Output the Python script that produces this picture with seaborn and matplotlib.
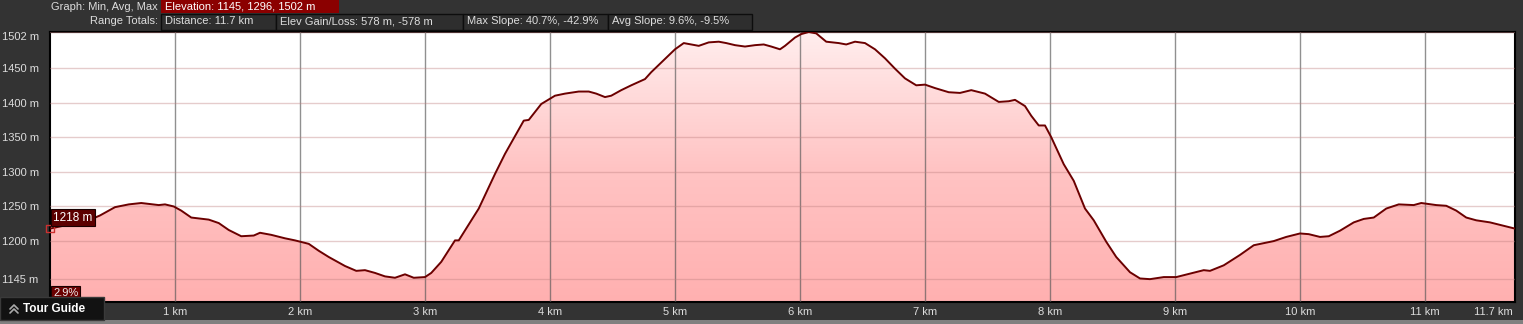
import numpy as np
import matplotlib
matplotlib.use("Agg")
import matplotlib.pyplot as plt
from matplotlib.patches import Rectangle
from matplotlib.lines import Line2D
from matplotlib.colors import LinearSegmentedColormap
import pandas as pd
import seaborn as sns

# ---------------- data ----------------
distance_km = [0.00, 0.31, 0.40, 0.52, 0.63, 0.73, 0.87, 0.92, 0.99, 1.05,
               1.13, 1.27, 1.35, 1.43, 1.53, 1.63, 1.68, 1.77, 1.88, 1.96,
               2.07, 2.15, 2.23, 2.36, 2.45, 2.52, 2.60, 2.68, 2.76, 2.84,
               2.91, 3.00, 3.05, 3.13, 3.24, 3.27, 3.43, 3.56, 3.64, 3.79,
               3.83, 3.93, 4.04, 4.12, 4.23, 4.31, 4.37, 4.44, 4.49, 4.57,
               4.65, 4.76, 4.81, 4.92, 5.00, 5.07, 5.19, 5.27, 5.35, 5.41,
               5.48, 5.56, 5.64, 5.71, 5.77, 5.84, 5.88, 5.96, 6.01, 6.07,
               6.13, 6.21, 6.31, 6.37, 6.44, 6.52, 6.60, 6.68, 6.76, 6.84,
               6.93, 7.00, 7.08, 7.19, 7.28, 7.37, 7.48, 7.59, 7.67, 7.72,
               7.80, 7.85, 7.91, 7.96, 8.01, 8.11, 8.19, 8.28, 8.35, 8.45,
               8.53, 8.64, 8.72, 8.80, 8.91, 9.01, 9.12, 9.23, 9.28, 9.39,
               9.52, 9.63, 9.79, 9.89, 10.00, 10.07, 10.16, 10.23, 10.32, 10.43,
               10.51, 10.59, 10.69, 10.79, 10.91, 10.97, 11.09, 11.17, 11.25, 11.33,
               11.41, 11.52, 11.63, 11.72]
elevation_m = [1218, 1230, 1237, 1249, 1253, 1255, 1252, 1253, 1250, 1244,
               1234, 1231, 1226, 1216, 1207, 1208, 1212, 1209, 1204, 1201,
               1196, 1186, 1177, 1164, 1157, 1158, 1154, 1149, 1147, 1152,
               1147, 1148, 1154, 1170, 1201, 1201, 1247, 1297, 1326, 1374,
               1375, 1398, 1410, 1413, 1416, 1416, 1413, 1408, 1410, 1418,
               1425, 1434, 1444, 1463, 1477, 1486, 1482, 1487, 1488, 1486,
               1483, 1481, 1483, 1484, 1481, 1477, 1482, 1494, 1499, 1502,
               1500, 1488, 1486, 1484, 1488, 1486, 1477, 1464, 1449, 1435,
               1425, 1426, 1421, 1415, 1414, 1418, 1413, 1401, 1402, 1404,
               1395, 1381, 1367, 1367, 1350, 1311, 1287, 1247, 1230, 1199,
               1177, 1155, 1146, 1145, 1148, 1148, 1153, 1158, 1157, 1165,
               1180, 1194, 1200, 1206, 1211, 1210, 1206, 1207, 1215, 1227,
               1232, 1234, 1247, 1253, 1252, 1255, 1252, 1251, 1244, 1234,
               1230, 1227, 1222, 1218]

y_ticks = [1145, 1200, 1250, 1300, 1350, 1400, 1450, 1502]
y_tick_labels = ["1145 m", "1200 m", "1250 m", "1300 m", "1350 m",
                 "1400 m", "1450 m", "1502 m"]
x_ticks = [1, 2, 3, 4, 5, 6, 7, 8, 9, 10, 11, 11.7]
x_tick_labels = ["1 km", "2 km", "3 km", "4 km", "5 km", "6 km", "7 km",
                 "8 km", "9 km", "10 km", "11 km", "11.7 km"]

header_graph = "Graph: Min, Avg, Max"
header_elev = "Elevation: 1145, 1296, 1502 m"
range_label = "Range Totals:"
range_boxes = ["Distance: 11.7 km", "Elev Gain/Loss: 578 m, -578 m",
               "Max Slope: 40.7%, -42.9%", "Avg Slope: 9.6%, -9.5%"]
start_label = "1218 m"
slope_label = "2.9%"
tour_label = "Tour Guide"

# ---------------- style ----------------
sns.set_style("white")
plt.rcParams['font.family'] = ['Liberation Sans', 'DejaVu Sans']

W, H = 1523, 324
BG = '#333333'
fig = plt.figure(figsize=(W / 100, H / 100), dpi=100, facecolor=BG)


def fx(px):
    return px / W


def fy(py):
    return 1 - py / H


ax = fig.add_axes([fx(50), fy(302), fx(1515) - fx(50), fy(32) - fy(302)])
df = pd.DataFrame({"km": distance_km, "elev": elevation_m})
ymin, ymax = 1112, 1502
xmax = 11.72

ax.set_facecolor('white')
fill = ax.fill_between(df["km"], df["elev"], ymin, color='none', lw=0)
grad = np.linspace(0, 1, 256).reshape(-1, 1)
cmap = LinearSegmentedColormap.from_list('g', ['#ffb0b0', '#ffc4c4', '#ffeeee'])
img = ax.imshow(grad, extent=[0, xmax, ymin, ymax], origin='lower',
                aspect='auto', cmap=cmap, zorder=1, interpolation='bilinear')
img.set_clip_path(fill.get_paths()[0], transform=ax.transData)

sns.lineplot(data=df, x="km", y="elev", color='#6b0000', lw=1.4, ax=ax,
             zorder=4)

ax.set_xlim(0, xmax)
ax.set_ylim(ymin, ymax)
ax.set_xlabel("")
ax.set_ylabel("")

ax.set_xticks(x_ticks, x_tick_labels)
ax.set_yticks(y_ticks, y_tick_labels)
ax.set_axisbelow(False)
ax.xaxis.grid(True, color='#555555', alpha=0.65, lw=1)
ax.yaxis.grid(True, color='#c08080', alpha=0.4, lw=1)
ax.xaxis.get_gridlines()[-1].set_visible(False)

ax.tick_params(axis='y', length=0, pad=34.5, labelcolor='#dddddd', labelsize=8)
ax.tick_params(axis='x', length=0, pad=3.5, labelcolor='#dddddd', labelsize=8)
for lab in ax.get_yticklabels():
    lab.set_horizontalalignment('left')
ax.get_yticklabels()[-1].set_verticalalignment('top')
ax.get_xticklabels()[-1].set_horizontalalignment('right')

for sp in ax.spines.values():
    sp.set_color('#000000')
    sp.set_linewidth(1.5)

# start marker and label
ax.scatter([distance_km[0]], [elevation_m[0]], marker='s', s=30,
           facecolors='none', edgecolors='#cc3030', lw=1.0, zorder=6,
           clip_on=False)
ax.annotate(start_label, xy=(distance_km[0], elevation_m[0]),
            xytext=(2.5, 8), textcoords='offset points', ha='left',
            va='center', color='#ffffff', fontsize=8.5, zorder=7,
            bbox=dict(boxstyle='square,pad=0.2', fc='#5c0000',
                      ec='#1a0000', lw=0.8))

# ---------------- header ----------------
fig.add_artist(Rectangle((fx(161), fy(13)), fx(339) - fx(161), fy(0) - fy(13),
                         transform=fig.transFigure, facecolor='#8b0000',
                         edgecolor='none', zorder=2))
fig.text(fx(158), fy(6.5), header_graph, ha='right', va='center',
         color='#dddddd', fontsize=8)
fig.text(fx(165), fy(6.5), header_elev, ha='left', va='center',
         color='#ffffff', fontsize=8, zorder=3)

fig.text(fx(158), fy(21.5), range_label, ha='right', va='center',
         color='#dddddd', fontsize=8)
edges = [161, 276, 463, 608, 752]
for i, txt in enumerate(range_boxes):
    x0, x1 = edges[i], edges[i + 1]
    fig.add_artist(Rectangle((fx(x0), fy(29.5)), fx(x1) - fx(x0),
                             fy(13.5) - fy(29.5), transform=fig.transFigure,
                             facecolor='#2e2e2e', edgecolor='#0d0d0d',
                             lw=1.0, zorder=2))
    fig.text(fx(x0 + 4), fy(21.5), txt, ha='left', va='center',
             color='#dddddd', fontsize=8, zorder=3)

# ---------------- bottom ----------------
fig.add_artist(Rectangle((0, 0), 1, fy(320), transform=fig.transFigure,
                         facecolor='#808080', edgecolor='none', zorder=2))
fig.text(fx(53), fy(293), slope_label, ha='left', va='center',
         color='#eeeeee', fontsize=8, zorder=5,
         bbox=dict(boxstyle='square,pad=0.18', fc='#6b0000', ec='#1a0000',
                   lw=0.8))
fig.add_artist(Rectangle((0, fy(320)), fx(104), fy(297) - fy(320),
                         transform=fig.transFigure, facecolor='#121212',
                         edgecolor='#3a3a3a', lw=1.0, zorder=6))
for dy in (0, 4):
    fig.add_artist(Line2D([fx(10), fx(14), fx(18)],
                          [fy(309 + dy), fy(305 + dy), fy(309 + dy)],
                          transform=fig.transFigure, color='#aaaaaa',
                          lw=1.2, zorder=7))
fig.text(fx(23), fy(309), tour_label, ha='left', va='center',
         color='#ffffff', fontsize=8.5, fontweight='bold', zorder=7)

fig.savefig("out.png", dpi=100, facecolor=BG)
